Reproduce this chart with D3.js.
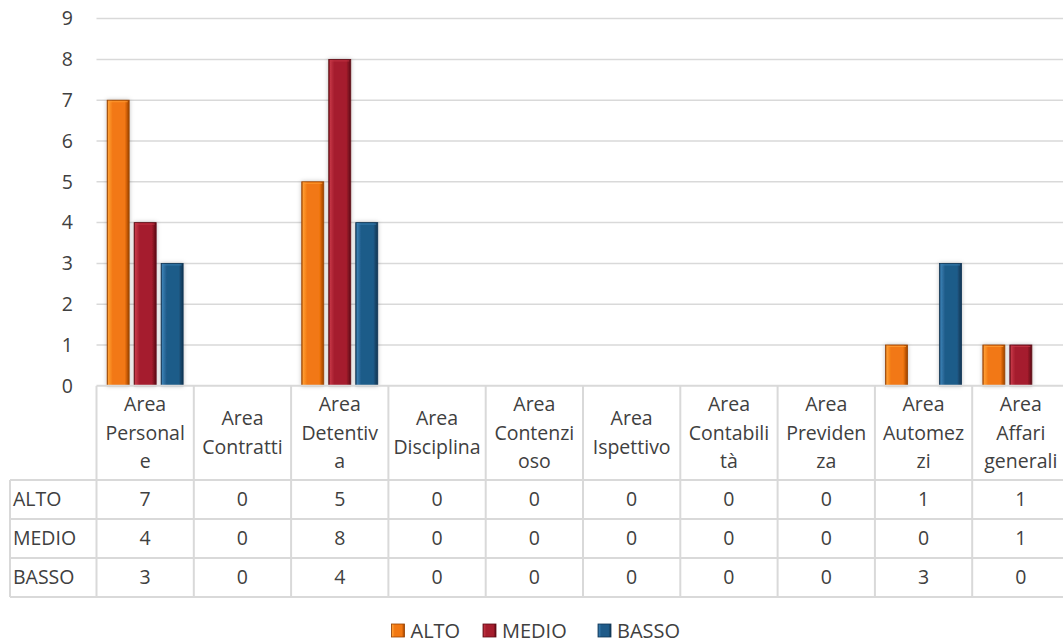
<!DOCTYPE html>
<html>
<head>
<meta charset="utf-8">
<script src="https://cdn.jsdelivr.net/npm/d3@7"></script>
<style>
  html, body { margin: 0; padding: 0; background: #fff; overflow: hidden; }
  svg { display: block; }
  text { font-family: "Open Sans", "Noto Sans", sans-serif; fill: #404040; }
</style>
</head>
<body>
<svg id="chart" width="1063" height="642"></svg>
<script>
// Risk level counts per area
const categories = ["Area Personale", "Area Contratti", "Area Detentiva", "Area Disciplina",
  "Area Contenzioso", "Area Ispettivo", "Area Contabilità", "Area Previdenza",
  "Area Automezzi", "Area Affari generali"];
// Header text as it wraps inside the table cells
const categoryLines = [
  ["Area", "Personal", "e"], ["Area", "Contratti"], ["Area", "Detentiv", "a"],
  ["Area", "Disciplina"], ["Area", "Contenzi", "oso"], ["Area", "Ispettivo"],
  ["Area", "Contabili", "tà"], ["Area", "Previden", "za"], ["Area", "Automez", "zi"],
  ["Area", "Affari", "generali"]
];
const seriesNames = ["ALTO", "MEDIO", "BASSO"];
const alto  = [7, 0, 5, 0, 0, 0, 0, 0, 1, 1];
const medio = [4, 0, 8, 0, 0, 0, 0, 0, 0, 1];
const basso = [3, 0, 4, 0, 0, 0, 0, 0, 3, 0];
const yTicks = [0, 1, 2, 3, 4, 5, 6, 7, 8, 9];

const seriesValues = [alto, medio, basso];
const palette = [
  { dark: "#9a4300", light: "#ff9d33", main: "#f27812", deep: "#c85a05" },
  { dark: "#5e0b14", light: "#c43646", main: "#a51d2d", deep: "#7f1220" },
  { dark: "#0f3555", light: "#3a7fb2", main: "#1f5b89", deep: "#174669" }
];

const svg = d3.select("#chart");
const W = 1063;
const FS = 19.5;
const plotLeft = 96.5, colW = 97.3;
const plotRight = W;
const y0 = 385.8, y9 = 18.6;

const x = d3.scaleBand().domain(categories).range([plotLeft, plotLeft + colW * categories.length]);
const xs = d3.scaleBand().domain(seriesNames).range([0, x.bandwidth()])
  .paddingInner(0.185).paddingOuter(0.395);
const y = d3.scaleLinear().domain([0, 9]).range([y0, y9]);

// gradients and bar shadow
const defs = svg.append("defs");
palette.forEach((p, i) => {
  const g = defs.append("linearGradient").attr("id", "grad" + i)
    .attr("x1", 0).attr("x2", 1).attr("y1", 0).attr("y2", 0);
  [[0, p.dark], [0.06, p.light], [0.25, p.main], [0.8, p.main], [0.9, p.deep], [1, p.dark]]
    .forEach(([o, c]) => g.append("stop").attr("offset", o).attr("stop-color", c));
});
const f = defs.append("filter").attr("id", "shadow")
  .attr("x", "-40%").attr("y", "-10%").attr("width", "180%").attr("height", "120%");
f.append("feDropShadow").attr("dx", 0).attr("dy", 0).attr("stdDeviation", 2.2)
  .attr("flood-color", "#000").attr("flood-opacity", 0.25);

// horizontal gridlines
svg.append("g").selectAll("line").data(yTicks.slice(1)).join("line")
  .attr("x1", plotLeft).attr("x2", plotRight)
  .attr("y1", d => y(d)).attr("y2", d => y(d))
  .attr("stroke", "#d9d9d9").attr("stroke-width", 1.5);

// y axis labels
const yAxis = d3.axisLeft(y).tickValues(yTicks).tickSize(0).tickPadding(0);
const ya = svg.append("g").attr("transform", "translate(73,0)").call(yAxis);
ya.select(".domain").remove();
ya.selectAll("text").attr("font-size", FS).style("font-family", "'Open Sans', sans-serif")
  .attr("fill", "#404040");

// bars
const barData = ci => seriesValues.map((vals, si) => ({ s: seriesNames[si], si, v: vals[ci] })).filter(e => e.v > 0);
const groups = svg.append("g").selectAll("g").data(categories).join("g")
  .attr("transform", d => `translate(${x(d)},0)`);
groups.selectAll("rect")
  .data((d, ci) => barData(ci))
  .join("rect")
  .attr("x", d => xs(d.s))
  .attr("width", xs.bandwidth())
  .attr("y", d => y(d.v))
  .attr("height", d => y(0) - y(d.v))
  .attr("fill", d => `url(#grad${d.si})`)
  .attr("stroke", d => palette[d.si].dark).attr("stroke-width", 0.8)
  .attr("filter", "url(#shadow)");
// top bevel highlight
groups.selectAll("line.bevel")
  .data((d, ci) => barData(ci))
  .join("line").attr("class", "bevel")
  .attr("x1", d => xs(d.s) + 1.5).attr("x2", d => xs(d.s) + xs.bandwidth() - 1.5)
  .attr("y1", d => y(d.v) + 1.5).attr("y2", d => y(d.v) + 1.5)
  .attr("stroke", d => palette[d.si].light).attr("stroke-width", 1).attr("opacity", 0.8);

// data table
const tableTop = y0, headerBottom = 480, rowH = 39, tableLeft = 10;
const rowTops = [headerBottom, headerBottom + rowH, headerBottom + 2 * rowH];
const tableBottom = headerBottom + 3 * rowH;
const gridCol = "#d9d9d9";
const tg = svg.append("g");
// horizontal lines
tg.append("line").attr("x1", plotLeft).attr("x2", W).attr("y1", tableTop).attr("y2", tableTop)
  .attr("stroke", gridCol).attr("stroke-width", 2);
[headerBottom, ...rowTops.slice(1), tableBottom].forEach(yy => {
  tg.append("line").attr("x1", tableLeft).attr("x2", W).attr("y1", yy).attr("y2", yy)
    .attr("stroke", gridCol).attr("stroke-width", 2);
});
// vertical lines
tg.append("line").attr("x1", tableLeft).attr("x2", tableLeft).attr("y1", headerBottom).attr("y2", tableBottom)
  .attr("stroke", gridCol).attr("stroke-width", 2);
d3.range(categories.length + 1).forEach(i => {
  const xx = plotLeft + colW * i;
  tg.append("line").attr("x1", xx).attr("x2", xx).attr("y1", tableTop).attr("y2", tableBottom)
    .attr("stroke", gridCol).attr("stroke-width", 2);
});
// header text
const lineH = 28.5;
categories.forEach((c, i) => {
  const lines = categoryLines[i];
  const cy = (tableTop + headerBottom) / 2;
  const t = tg.append("text").attr("text-anchor", "middle").attr("font-size", FS)
    .attr("x", x(c) + x.bandwidth() / 2);
  lines.forEach((ln, k) => {
    t.append("tspan").attr("x", x(c) + x.bandwidth() / 2)
      .attr("y", cy + (k - (lines.length - 1) / 2) * lineH)
      .attr("dy", "0.35em").text(ln);
  });
});
// row labels and values
seriesNames.forEach((s, si) => {
  const cy = rowTops[si] + rowH / 2;
  tg.append("text").attr("x", 13).attr("y", cy).attr("dy", "0.35em").attr("font-size", FS).text(s);
  categories.forEach((c, ci) => {
    tg.append("text").attr("x", x(c) + x.bandwidth() / 2).attr("y", cy).attr("dy", "0.35em")
      .attr("text-anchor", "middle").attr("font-size", FS).text(seriesValues[si][ci]);
  });
});

// legend
const legendX = [391.5, 483, 598];
const legend = svg.append("g");
seriesNames.forEach((s, i) => {
  const g = legend.append("g").attr("transform", `translate(${legendX[i]},624)`);
  g.append("rect").attr("width", 13).attr("height", 13)
    .attr("fill", `url(#grad${i})`).attr("stroke", palette[i].dark).attr("stroke-width", 0.8);
  g.append("text").attr("x", 19).attr("y", 13.5).attr("font-size", 20).text(s);
});
</script>
</body>
</html>
